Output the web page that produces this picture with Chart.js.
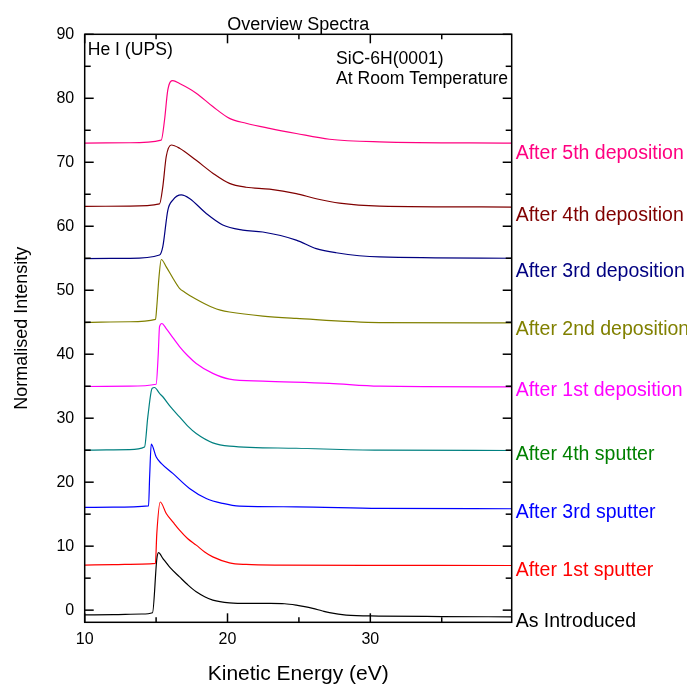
<!DOCTYPE html>
<html>
<head>
<meta charset="utf-8">
<script src="https://cdn.jsdelivr.net/npm/chart.js@4"></script>
<style>
body{margin:0;background:#fff}
</style>
</head>
<body>
<canvas id="chart" width="687" height="685"></canvas>
<script>

let names=["As Introduced","After 1st sputter","After 3rd sputter","After 4th sputter","After 1st deposition","After 2nd deposition","After 3rd deposition","After 4th deposition","After 5th deposition"]

let introX=[10,12,14,14.75,15.05,15.17,15.47,16.0,16.64,17.2,17.81,18.4,18.97,20.14,21.5,23.0,24.0,24.81,25.4,25.97,26.6,27.14,28.31,30.6,35,39.9]
let introY=[-0.75,-0.7,-0.6,-0.4,8.0,9.0,8.1,6.6,5.2,4.0,2.86,2.1,1.56,1.14,1.05,1.05,1.0,0.78,0.55,0.27,-0.1,-0.4,-0.78,-0.92,-1.0,-1.05]

let sput1X=[10,12,14,14.95,15.05,15.29,15.71,16.2,16.64,17.2,17.81,18.4,18.97,20.14,21.3,23.64,30,39.9]
let sput1Y=[7.05,7.1,7.2,7.3,12,16.9,15.1,13.7,12.5,11.2,10.16,9.1,8.33,7.4,7.14,7.03,7.0,6.98]

let sput3X=[10,12,14.47,14.55,14.66,15.0,15.36,16.17,17.34,18.51,19.67,20.84,24.81,30.64,39.9]
let sput3Y=[16.05,16.1,16.3,21,25.95,23.97,22.93,21.37,19.02,17.46,16.68,16.26,16.15,15.9,15.85]

let sput4X=[10,13.14,14.19,14.42,14.72,14.89,15.24,15.47,16.0,16.64,17.2,17.81,18.97,20.14,24.81,30.64,39.9]
let sput4Y=[25.0,25.1,25.5,30.2,34.65,34.8,33.87,33.35,31.8,30.2,28.8,27.6,26.15,25.64,25.3,25.0,24.95]

let dep1X=[10,13.14,15.0,15.15,15.24,15.4,15.71,16.2,16.64,17.2,17.81,18.97,20.14,22.47,27.14,30.64,39.9]
let dep1Y=[34.95,35.0,35.3,40,44.3,44.8,44.0,42.5,41.2,39.8,38.56,37.0,36.11,35.8,35.44,35.0,34.9]

let dep2X=[10,13.14,14.96,15.05,15.2,15.36,15.71,16.2,16.64,17.0,17.81,18.4,18.97,19.5,20.14,22.47,24.81,30.64,39.9]
let dep2Y=[44.95,45.07,45.44,47.5,52,54.8,53.65,51.8,50.3,49.7,48.6,47.9,47.3,46.9,46.6,45.96,45.6,44.95,44.9]

let dep3X=[10,13.14,15.24,15.47,15.82,16.17,16.76,17.34,18.51,19.67,21.07,22.47,24.81,26.21,27.61,30.64,39.9]
let dep3Y=[54.95,54.98,55.5,56.8,62.5,64.1,64.9,64.35,62.0,60.2,59.4,59.1,57.84,56.5,55.86,55.2,55.0]

let dep4X=[10,13.14,15.24,15.47,15.71,16.06,16.64,17.81,18.97,20.14,21.3,22.94,24.81,26.21,27.84,30.64,39.9]
let dep4Y=[63.1,63.15,63.5,66.2,70.9,72.7,72.2,70.3,68.3,66.7,66.1,65.8,65.1,64.3,63.6,63.15,63.0]

let dep5X=[10,13.14,15.36,15.59,15.82,16.17,16.64,17.81,18.97,20.14,21.3,22.94,24.81,27.14,30.64,39.9]
let dep5Y=[73.0,73.05,73.47,76.6,81.3,82.75,82.3,80.8,78.7,76.86,76.1,75.3,74.5,73.6,73.2,73.0]

// where each series name sits on the right, in y units
let labelAt=[-2.6,5.3,14.4,23.45,33.45,43.0,52.0,60.85,70.45]

let xMin=10, xMax=39.9
let yMin=-1.9, yMax=90

let allX=[introX,sput1X,sput3X,sput4X,dep1X,dep2X,dep3X,dep4X,dep5X]
let allY=[introY,sput1Y,sput3Y,sput4Y,dep1Y,dep2Y,dep3Y,dep4Y,dep5Y]

let lineColors=["#000000","#ff0000","#0000ff","#008080","#ff00ff","#808000","#000080","#800000","#ff0080"]
let textColors=["#000000","#ff0000","#0000ff","#008000","#ff00ff","#808000","#000080","#800000","#ff0080"]

let font="'Liberation Sans', Arial, sans-serif"
Chart.defaults.font.family=font
Chart.defaults.color="#000"

let datasets=names.map((n,i)=>({
label:n,
data:allX[i].map((v,j)=>({x:v,y:allY[i][j]})),
borderColor:lineColors[i],
borderWidth:1.2,
pointRadius:0,
cubicInterpolationMode:"monotone",
fill:false
}))

function line(ctx,x1,y1,x2,y2){
ctx.beginPath()
ctx.moveTo(x1,y1)
ctx.lineTo(x2,y2)
ctx.stroke()
}

let frame={
id:"frame",
afterDraw(chart){

let ctx=chart.ctx
let a=chart.chartArea
let x=chart.scales.x
let y=chart.scales.y

ctx.save()
ctx.strokeStyle="#000"
ctx.lineWidth=1.5
ctx.strokeRect(a.left,a.top,a.right-a.left,a.bottom-a.top)

x.ticks.forEach(t=>{
let px=x.getPixelForValue(t.value)
let len=t.value%10==0?9:5
line(ctx,px,a.bottom,px,a.bottom-len)
line(ctx,px,a.top,px,a.top+len)
})

y.ticks.forEach(t=>{
let py=y.getPixelForValue(t.value)
let len=t.value%10==0?9:6
line(ctx,a.left,py,a.left+len,py)
line(ctx,a.right,py,a.right-len,py)
})

ctx.fillStyle="#000"
ctx.textBaseline="alphabetic"
ctx.textAlign="center"
ctx.font="18px "+font
ctx.fillText("Overview Spectra",(a.left+a.right)/2,30)
ctx.font="21px "+font
ctx.fillText("Kinetic Energy (eV)",(a.left+a.right)/2,680)

ctx.save()
ctx.translate(22,(a.top+a.bottom)/2)
ctx.rotate(-Math.PI/2)
ctx.textBaseline="middle"
ctx.font="18px "+font
ctx.fillText("Normalised Intensity",0,0)
ctx.restore()

ctx.textAlign="left"
ctx.font="17.6px "+font
ctx.fillText("He I (UPS)",a.left+3,55)
ctx.fillText("SiC-6H(0001)",336,64)
ctx.fillText("At Room Temperature",336,84)

ctx.font="19.5px "+font
names.forEach((n,i)=>{
ctx.fillStyle=textColors[i]
ctx.fillText(n,a.right+4,y.getPixelForValue(labelAt[i]))
})

ctx.restore()
}
}

new Chart(document.getElementById("chart"),{
type:"line",
data:{datasets:datasets},
plugins:[frame],
options:{
responsive:false,
animation:false,
layout:{padding:{left:0,top:34.3,right:175.3,bottom:0}},
plugins:{legend:{display:false},tooltip:{enabled:false}},
scales:{
x:{
type:"linear",
min:xMin,
max:xMax,
border:{display:false},
grid:{display:false,drawTicks:false},
ticks:{
stepSize:5,
includeBounds:false,
autoSkip:false,
maxRotation:0,
padding:8,
font:{size:16},
callback:v=>v%10==0?v:""
},
afterFit:s=>{s.height=62.7}
},
y:{
min:yMin,
max:yMax,
border:{display:false},
grid:{display:false,drawTicks:false},
ticks:{
stepSize:5,
includeBounds:false,
autoSkip:false,
padding:10.5,
font:{size:16},
callback:v=>v%10==0?v:""
},
afterFit:s=>{s.width=84.7}
}
}
}
})

</script>
</body>
</html>
